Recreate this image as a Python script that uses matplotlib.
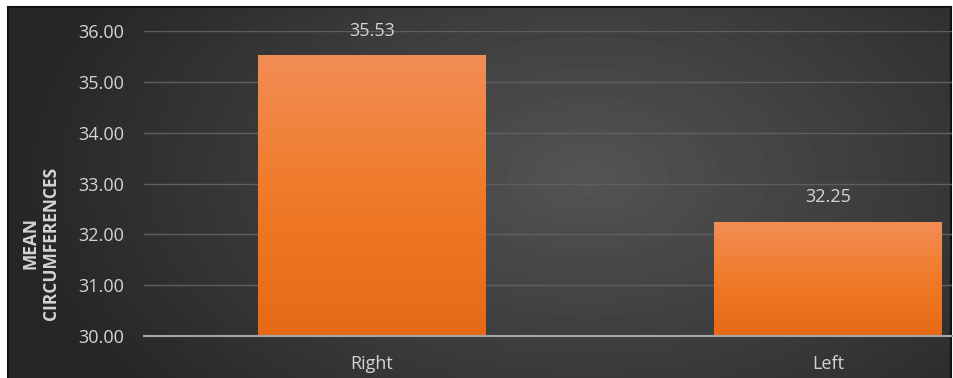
import numpy as np
import matplotlib.pyplot as plt
from matplotlib.colors import LinearSegmentedColormap

# data
categories = ["Right", "Left"]
means = [35.53, 32.25]
y_ticks = [30, 31, 32, 33, 34, 35, 36]

W, H = 954, 378
fig = plt.figure(figsize=(W / 100, H / 100), dpi=100)
fig.patch.set_facecolor("white")
plt.rcParams["font.family"] = ["Open Sans", "DejaVu Sans"]

# dark radial background
bg = fig.add_axes([8 / W, 0, (951 - 8) / W, (378 - 7) / H])
yy, xx = np.mgrid[0:371, 0:943]
r = np.sqrt(((xx - 580) / 540.0) ** 2 + ((yy - 170) / 330.0) ** 2)
shade = np.clip(0.33 - 0.17 * r, 0.15, 0.33)
bg.imshow(shade, cmap="gray", vmin=0, vmax=1, aspect="auto", interpolation="bilinear")
bg.set_xticks([])
bg.set_yticks([])
for s in bg.spines.values():
    s.set_color("#111111")
    s.set_linewidth(1.5)
bg.spines["bottom"].set_visible(False)

# main plot area
band = 456.0
left_px, right_px = 144, 952
top_px, bot_px = 31, 336
ax = fig.add_axes([left_px / W, (H - bot_px) / H, (right_px - left_px) / W, (bot_px - top_px) / H])
ax.patch.set_alpha(0)
ax.set_xlim(-0.5, -0.5 + (right_px - left_px) / band)
ax.set_ylim(30, 36)

x = np.arange(len(categories))
bars = ax.bar(x, [m - 30 for m in means], bottom=30, width=0.5, color="#ee7b2e", zorder=2)

grad = np.linspace(0, 1, 100).reshape(-1, 1)
cmap = LinearSegmentedColormap.from_list("orng", ["#f28d55", "#f07a28", "#e66a16"])
for b in bars:
    x0, y0, w, h = b.get_x(), b.get_y(), b.get_width(), b.get_height()
    im = ax.imshow(grad, cmap=cmap, extent=[x0, x0 + w, y0, y0 + h], aspect="auto", zorder=3,
                   origin="upper")
    im.set_clip_path(b)

for xi, m in zip(x, means):
    ax.annotate(f"{m:.2f}", (xi, m), xytext=(0, 11), textcoords="offset points",
                ha="center", va="bottom", color="#d4d4d4", fontsize=13)

ax.set_yticks(y_ticks)
ax.set_yticklabels([f"{t:.2f}" for t in y_ticks])
ax.set_xticks(x)
ax.set_xticklabels(categories)
ax.tick_params(axis="y", length=0, pad=14, labelcolor="#d4d4d4", labelsize=13)
ax.tick_params(axis="x", length=0, pad=14, labelcolor="#d4d4d4", labelsize=13)
ax.grid(axis="y", color="#5f5f5f", linewidth=1, zorder=0)
ax.set_axisbelow(True)
for s in ["top", "right", "left"]:
    ax.spines[s].set_visible(False)
ax.spines["bottom"].set_color("#a6a6a6")
ax.spines["bottom"].set_linewidth(1.5)
ax.spines["bottom"].set_zorder(4)

fig.text(41 / W, (H - 243) / H, "MEAN\nCIRCUMFERENCES", rotation=90, ha="center", va="center",
         color="#d4d4d4", fontsize=12.5, fontweight="bold", linespacing=1.15)

fig.savefig("out.png", dpi=100, facecolor=fig.get_facecolor())
